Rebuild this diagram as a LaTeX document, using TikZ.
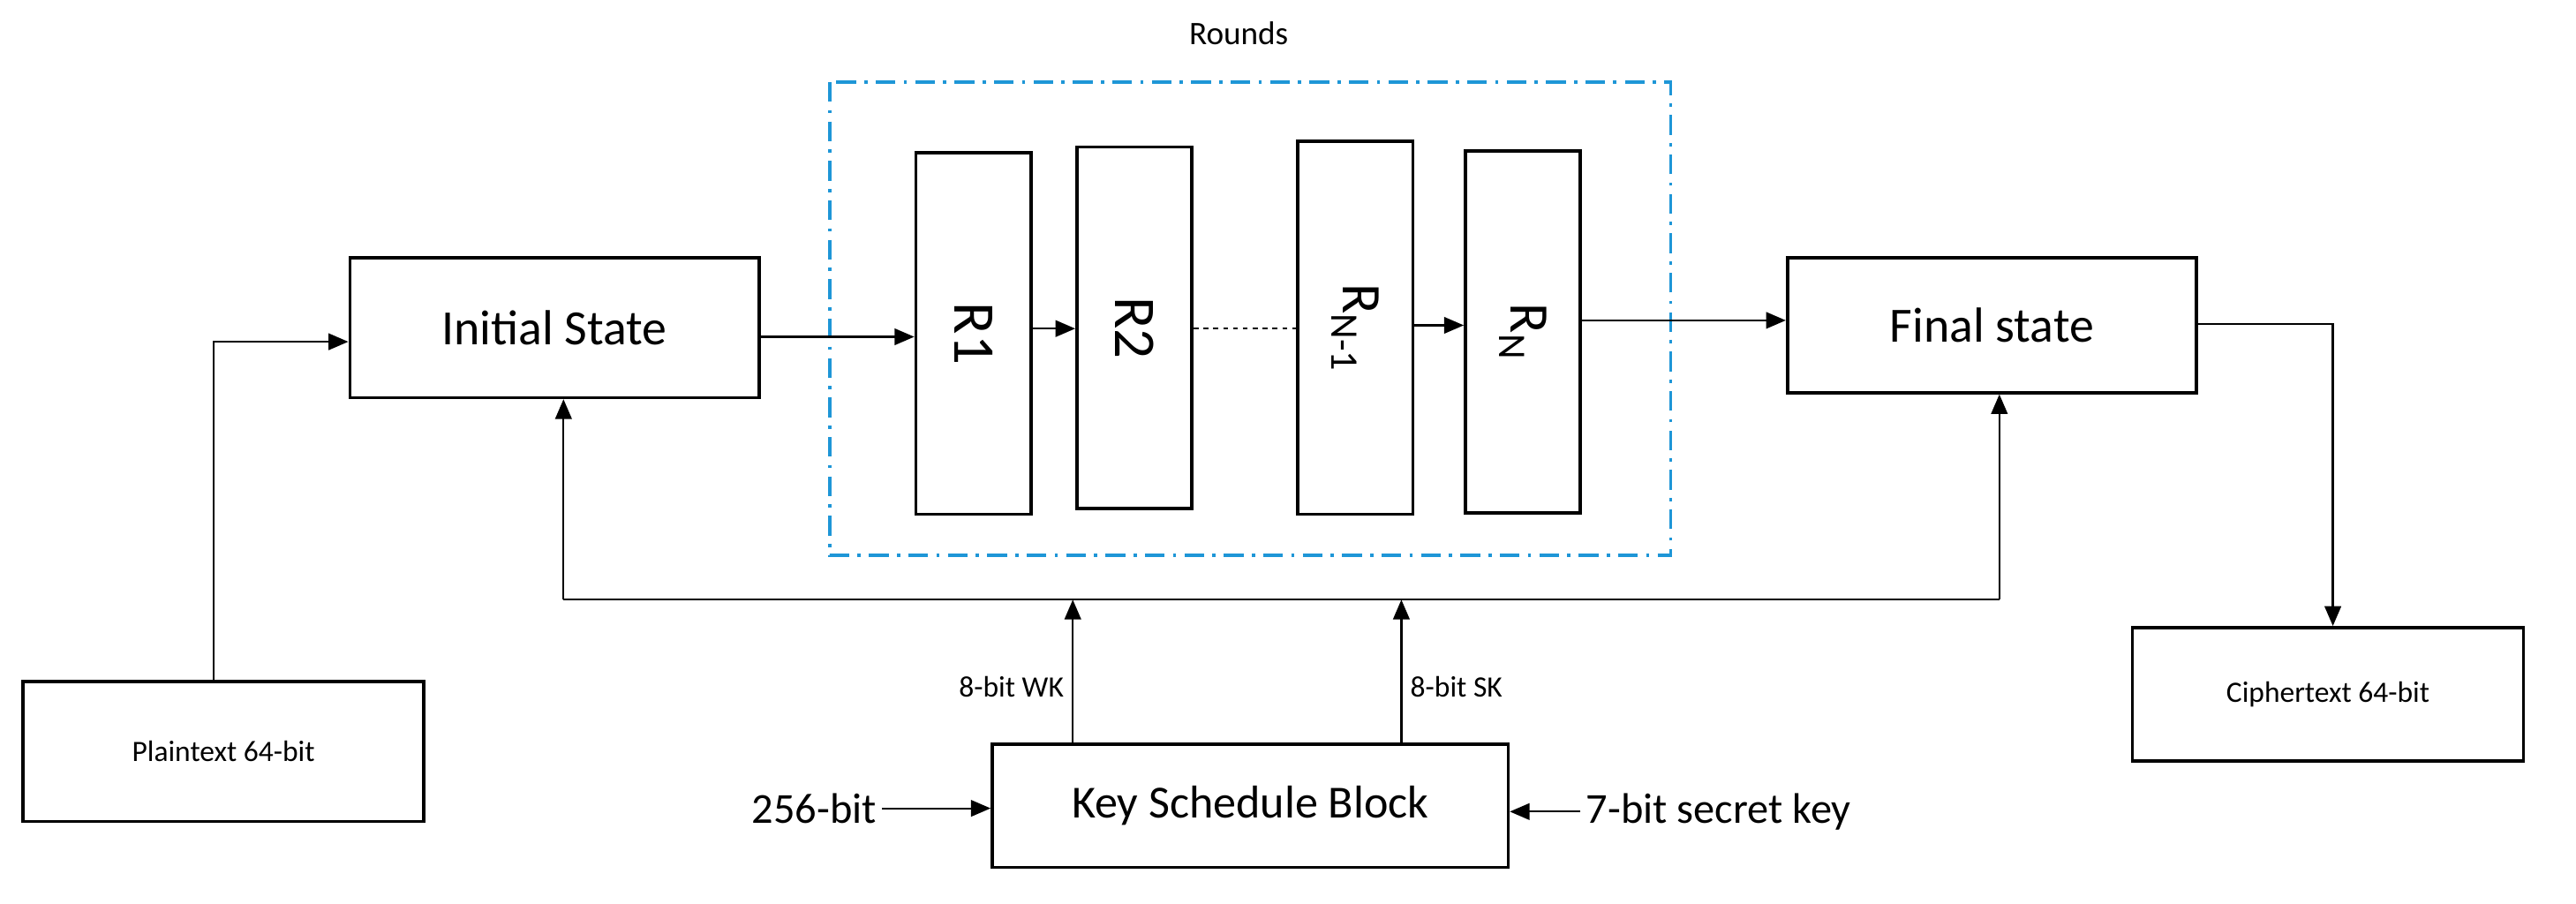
\documentclass[tikz,border=0pt]{standalone}
\usepackage{fontspec}
\setmainfont{Carlito}
\usetikzlibrary{arrows.meta}
\begin{document}
\begin{tikzpicture}[x=1pt,y=-1pt,
 box/.style={draw,line width=2pt,inner sep=0pt},
 ln/.style={line width=1.2pt},
 arr/.style={ln,-{Triangle[length=12pt,width=10pt]}},
 rb/.style={box,minimum width=70pt,minimum height=220pt}]
\useasboundingbox (0,0) rectangle (1568,550);
\node[box,minimum width=249pt,minimum height=85pt,font=\fontsize{30}{34}\selectfont] (is) at (337.5,199.5) {Initial State};
\node[box,minimum width=249pt,minimum height=82pt,font=\fontsize{30}{34}\selectfont] (fs) at (1212.5,198) {Final state};
\draw[draw={rgb,255:red,30;green,150;blue,215},line width=2pt,dash pattern=on 12pt off 5pt on 2pt off 5pt] (505,50) rectangle (1017,338);
\node[font=\fontsize{20}{24}\selectfont] (rl) at (754,20) {Rounds};
\node[rb] (r1) at (592.5,203) {};
\node[rotate=-90,font=\fontsize{36}{40}\selectfont] at (r1) {R1};
\node[rb] (r2) at (690.5,199.5) {};
\node[rotate=-90,font=\fontsize{36}{40}\selectfont] at (r2) {R2};
\node[rb,minimum height=227pt] (r3) at (825,199.5) {};
\node[rotate=-90,font=\fontsize{34}{40}\selectfont] at (r3) {R\textsubscript{N-1}};
\node[rb] (r4) at (927,202) {};
\node[rotate=-90,font=\fontsize{34}{40}\selectfont] at (r4) {R\textsubscript{N}};
\node[box,minimum width=244pt,minimum height=85pt,font=\fontsize{18}{22}\selectfont] (pt) at (136,457.5) {Plaintext 64-bit};
\node[box,minimum width=238pt,minimum height=81pt,font=\fontsize{18}{22}\selectfont] (ct) at (1417,422.5) {Ciphertext 64-bit};
\node[box,minimum width=314pt,minimum height=75pt,font=\fontsize{28}{32}\selectfont] (ks) at (761,490.5) {Key Schedule Block};
% main chain
\draw[arr] (is.east |- 0,205) -- (r1.west |- 0,205);
\draw[arr] (r1.east |- 0,200) -- (r2.west |- 0,200);
\draw[ln,dashed] (r2.east |- 0,200) -- (r3.west |- 0,200);
\draw[arr] (r3.east |- 0,198) -- (r4.west |- 0,198);
\draw[arr] (r4.east |- 0,195) -- (fs.west |- 0,195);
% plaintext
\coordinate (pc) at (130,208);
\draw[arr] (pt.north -| pc) -- (pc) -- (is.west |- pc);
% ciphertext
\coordinate (cc) at (1420,197);
\draw[arr] (fs.east |- cc) -- (cc) -- (ct.north -| cc);
% bus
\coordinate (b1) at (343,365);
\coordinate (b2) at (1217,365);
\draw[ln] (b1) -- (b2);
\draw[arr] (b1) -- (is.south -| b1);
\draw[arr] (b2) -- (fs.south -| b2);
\coordinate (k1) at (653,365);
\coordinate (k2) at (853,365);
\draw[arr] (ks.north -| k1) -- (k1);
\draw[arr] (ks.north -| k2) -- (k2);
\node[font=\fontsize{18}{22}\selectfont,anchor=east] (wk) at (651,418) {8-bit WK};
\node[font=\fontsize{18}{22}\selectfont,anchor=west] (sk) at (855,418) {8-bit SK};
\node[font=\fontsize{26}{30}\selectfont,anchor=east] (b256) at (537,492) {256-bit};
\draw[arr] (b256.east) -- (ks.west |- b256.east);
\node[font=\fontsize{26}{30}\selectfont,anchor=west] (sec) at (962,494) {7-bit secret key};
\draw[arr] (sec.west) -- (ks.east |- sec.west);
\end{tikzpicture}
\end{document}
